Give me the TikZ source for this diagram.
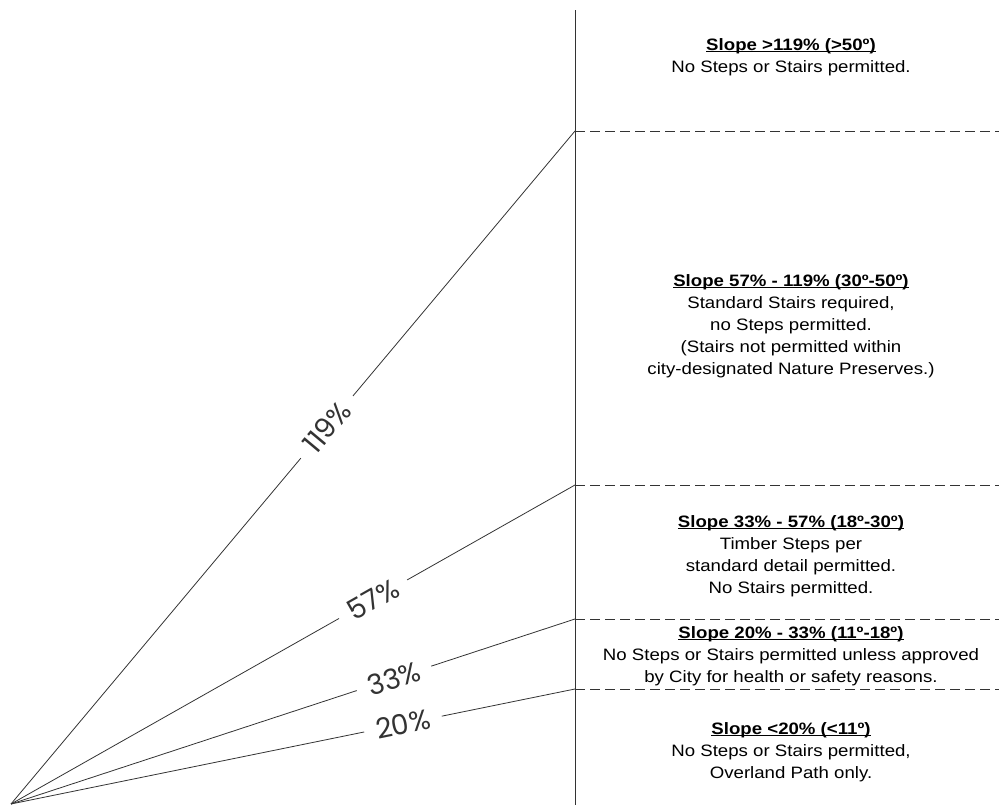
\documentclass[tikz,border=0pt]{standalone}
\usepackage{fontspec}
\setmainfont{Liberation Sans}[FakeStretch=1.13]
\newfontfamily\gaugefont{Poppins}
\usepackage{tikz}
\usetikzlibrary{calc}
\newcommand{\slopehead}[1]{\setbox0\hbox{\bfseries\fontsize{16.5bp}{22bp}\selectfont #1}\rlap{\rule[-2.3bp]{\wd0}{1.1bp}}\box0}
\tikzset{ray/.style={line width=.8bp, black!80},
  limit/.style={ray, dash pattern=on 10bp off 5bp},
  pct/.style={sloped, fill=white, inner xsep=12bp, inner ysep=0bp, font=\gaugefont\fontsize{28bp}{28bp}\selectfont},
  zone/.style={anchor=north, align=center, inner sep=0pt, font=\fontsize{16.5bp}{22bp}\selectfont}}

\begin{document}
\begin{tikzpicture}[x=1bp, y=1bp]
\useasboundingbox (0,0) rectangle (999,805);
\coordinate (O) at (11,1);
\coordinate (base) at (575,0);
\coordinate (peak) at (575,795);
\draw[ray] (base) -- (peak);
% slope rays and zone limits
\foreach \y/\p/\t in {674/119/0.56, 320/57/0.642, 186/33/0.679, 116/20/0.695} {
  \coordinate (e\p) at (575,\y);
  \coordinate (r\p) at (999,\y);
  \draw[ray] (O) -- node[pct, pos=\t] (l\p) {\p\%} (e\p);
  \draw[limit] (e\p) -- (r\p);
}
% zone notes
\node[zone] (z50) at (791,767) {\slopehead{Slope >119\% (>50º)}\\No Steps or Stairs permitted.};
\node[zone] (z30) at (791,531) {\slopehead{Slope 57\% - 119\% (30º-50º)}\\Standard Stairs required,\\no Steps permitted.\\(Stairs not permitted within\\city-designated Nature Preserves.)};
\node[zone] (z18) at (791,290) {\slopehead{Slope 33\% - 57\% (18º-30º)}\\Timber Steps per\\standard detail permitted.\\No Stairs permitted.};
\node[zone] (z11) at (791,179) {\slopehead{Slope 20\% - 33\% (11º-18º)}\\No Steps or Stairs permitted unless approved\\by City for health or safety reasons.};
\node[zone] (z0) at (791,83) {\slopehead{Slope <20\% (<11º)}\\No Steps or Stairs permitted,\\Overland Path only.};
\end{tikzpicture}
\end{document}
